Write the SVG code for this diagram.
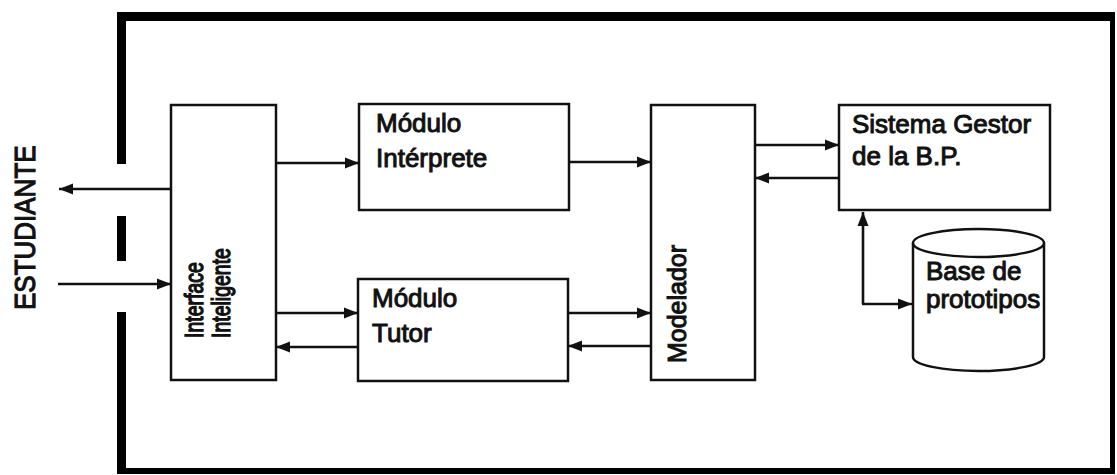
<svg xmlns="http://www.w3.org/2000/svg" width="1117" height="475" viewBox="0 0 1117 475">
<style>
.box{fill:#fff;stroke:#111;stroke-width:2.5}
.frame{stroke:#000;fill:none}
.t{font-family:"Liberation Sans",Arial,sans-serif;font-size:26px;fill:#111;stroke:#111;stroke-width:1}
.c{stroke:#111;stroke-width:2.6;fill:none}
</style>
<defs>
<marker id="ah" markerUnits="userSpaceOnUse" markerWidth="16" markerHeight="12" refX="14" refY="6" orient="auto">
<path d="M0,0.5 L14,6 L0,11.5 z" fill="#111"/>
</marker>
</defs>
<rect width="1117" height="475" fill="#fff"/>
<g id="frame">
<line class="frame" x1="117" y1="16.5" x2="1114" y2="16.5" stroke-width="9"/>
<line class="frame" x1="1112.5" y1="12" x2="1112.5" y2="474" stroke-width="5"/>
<line class="frame" x1="117" y1="471" x2="1115" y2="471" stroke-width="6"/>
<line class="frame" x1="121.5" y1="12" x2="121.5" y2="164" stroke-width="9"/>
<line class="frame" x1="121.5" y1="216" x2="121.5" y2="261" stroke-width="9"/>
<line class="frame" x1="121.5" y1="312" x2="121.5" y2="474" stroke-width="9"/>
</g>
<g id="estudiante">
<text class="t" transform="translate(35,310) rotate(-90) scale(1,1.15)">ESTUDIANTE</text>
</g>
<g id="interface">
<rect class="box" x="171" y="105" width="105" height="275"/>
<text class="t" style="font-size:19.5px" transform="translate(203,338) rotate(-90) scale(1,1.35)">Interface</text>
<text class="t" style="font-size:19.5px" transform="translate(230,338) rotate(-90) scale(1,1.35)">Inteligente</text>
</g>
<g id="interprete">
<rect class="box" x="359" y="104" width="210" height="106"/>
<text class="t" x="376" y="132">Módulo</text>
<text class="t" x="376" y="167">Intérprete</text>
</g>
<g id="tutor">
<rect class="box" x="358" y="279" width="210" height="102"/>
<text class="t" x="372" y="307">Módulo</text>
<text class="t" x="372" y="342">Tutor</text>
</g>
<g id="modelador">
<rect class="box" x="651" y="105" width="104" height="275"/>
<text class="t" style="font-size:25px" transform="translate(686,363) rotate(-90) scale(1,1.05)">Modelador</text>
</g>
<g id="gestor">
<rect class="box" x="839" y="105" width="211" height="105"/>
<text class="t" x="852" y="133">Sistema Gestor</text>
<text class="t" x="852" y="165">de la B.P.</text>
</g>
<g id="base">
<path class="box" d="M913,243 L913,357 A65.5,14 0 0 0 1044,357 L1044,243"/>
<ellipse class="box" cx="978.5" cy="243" rx="65.5" ry="14"/>
<text class="t" x="926" y="280">Base de</text>
<text class="t" x="926" y="308">prototipos</text>
</g>
<g id="connectors">
<line class="c" x1="171" y1="189" x2="59" y2="189" marker-end="url(#ah)"/>
<line class="c" x1="58" y1="284" x2="171" y2="284" marker-end="url(#ah)"/>
<line class="c" x1="276" y1="163" x2="359" y2="163" marker-end="url(#ah)"/>
<line class="c" x1="569" y1="162" x2="651" y2="162" marker-end="url(#ah)"/>
<line class="c" x1="276" y1="313" x2="358" y2="313" marker-end="url(#ah)"/>
<line class="c" x1="358" y1="347" x2="276" y2="347" marker-end="url(#ah)"/>
<line class="c" x1="568" y1="313" x2="651" y2="313" marker-end="url(#ah)"/>
<line class="c" x1="651" y1="346" x2="568" y2="346" marker-end="url(#ah)"/>
<line class="c" x1="755" y1="145" x2="839" y2="145" marker-end="url(#ah)"/>
<line class="c" x1="839" y1="178" x2="755" y2="178" marker-end="url(#ah)"/>
<path class="c" d="M863,304 L863,212" marker-end="url(#ah)"/>
<path class="c" d="M862,304 L912,304" marker-end="url(#ah)"/>
</g>
</svg>
